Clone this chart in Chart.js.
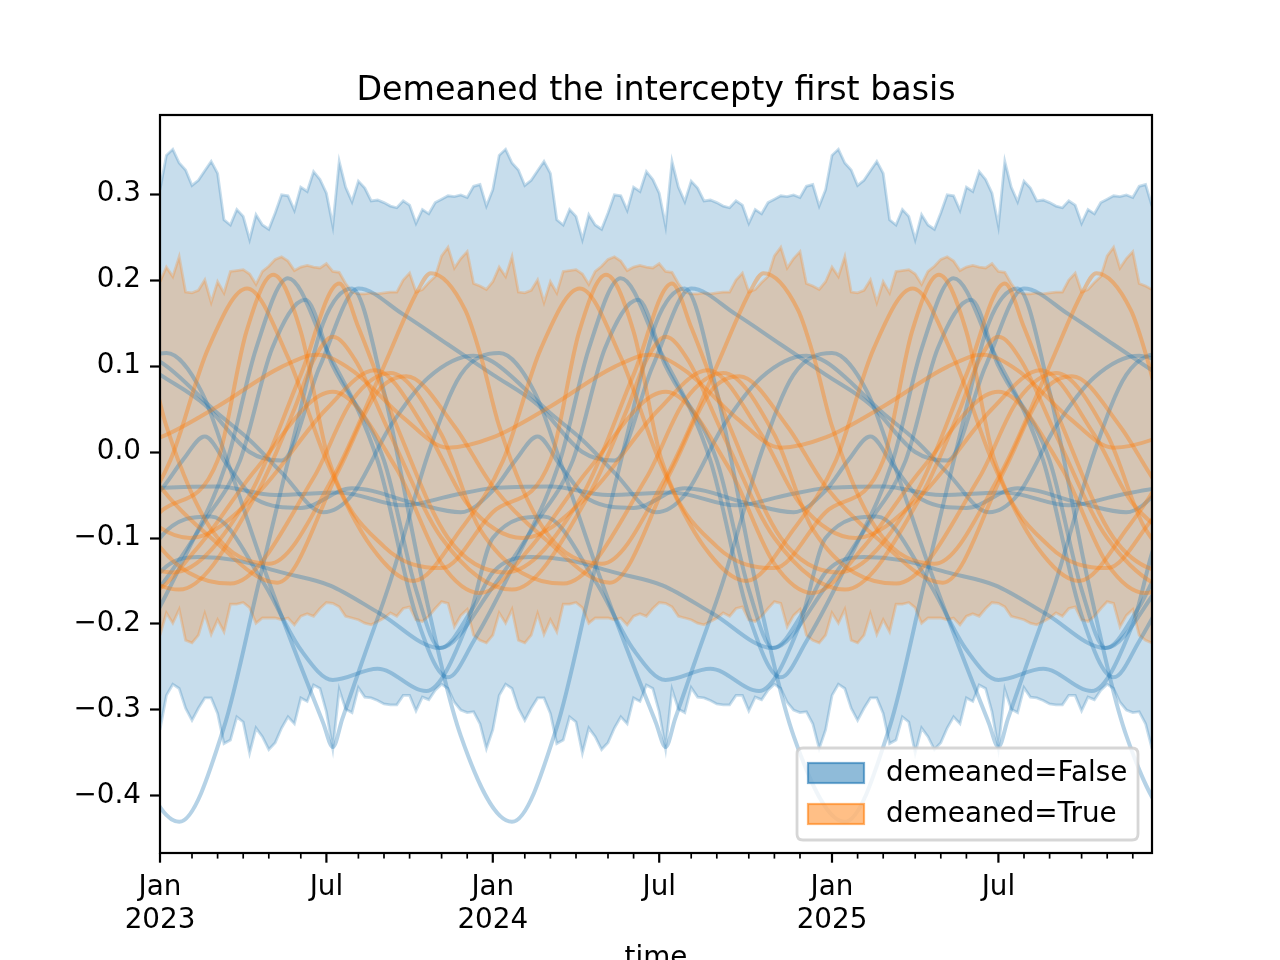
<!DOCTYPE html>
<html>
<head>
<meta charset="utf-8">
<script src="https://cdn.jsdelivr.net/npm/chart.js@4/dist/chart.umd.min.js"></script>
<style>
html, body { margin: 0; padding: 0; background: #fff; }
canvas { display: block; }
</style>
</head>
<body>
<canvas id="chart" width="1280" height="960" style="width:1280px;height:960px"></canvas>
<script>
// week index 0 = week starting Mon 2 Jan 2023, 156 weekly points, pattern repeats every 52 weeks
var nWeeks = 156;
var period = 52;

var titleText = 'Demeaned the intercepty first basis';
var xLabel = 'time';
var seriesNames = ['demeaned=False', 'demeaned=True'];

var yTicks = [-0.4, -0.3, -0.2, -0.1, 0, 0.1, 0.2, 0.3];
var xMajorWeeks = [0, 26, 52, 78, 105, 131];
var xMajorLabels = [['Jan', '2023'], ['Jul'], ['Jan', '2024'], ['Jul'], ['Jan', '2025'], ['Jul']];

// band edges, one value per week of the yearly cycle
var blueUpper = [0.305,0.345,0.352,0.336,0.328,0.310,0.316,0.327,0.338,0.324,
  0.270,0.264,0.282,0.274,0.247,0.276,0.264,0.259,0.278,0.299,
  0.298,0.281,0.308,0.303,0.326,0.317,0.301,0.263,0.338,0.308,
  0.291,0.315,0.307,0.292,0.293,0.290,0.286,0.284,0.292,0.287,
  0.266,0.282,0.277,0.290,0.294,0.298,0.297,0.299,0.296,0.309,
  0.311,0.286];
var blueLower = [-0.323,-0.283,-0.270,-0.275,-0.298,-0.312,-0.298,-0.286,-0.286,-0.304,
  -0.339,-0.335,-0.308,-0.314,-0.350,-0.321,-0.331,-0.346,-0.338,-0.321,
  -0.308,-0.316,-0.286,-0.290,-0.271,-0.275,-0.302,-0.345,-0.276,-0.299,
  -0.303,-0.274,-0.285,-0.286,-0.289,-0.293,-0.294,-0.294,-0.283,-0.283,
  -0.301,-0.285,-0.288,-0.277,-0.270,-0.275,-0.291,-0.300,-0.303,-0.302,
  -0.316,-0.345];
var orangeUpper = [0.198,0.215,0.204,0.227,0.186,0.185,0.188,0.200,0.174,0.198,
  0.185,0.210,0.211,0.212,0.207,0.195,0.210,0.216,0.224,0.227,
  0.222,0.211,0.215,0.217,0.215,0.214,0.219,0.210,0.209,0.196,
  0.186,0.184,0.184,0.185,0.184,0.185,0.186,0.186,0.200,0.208,
  0.186,0.189,0.197,0.204,0.228,0.238,0.214,0.225,0.233,0.196,
  0.193,0.189];
var orangeLower = [-0.213,-0.187,-0.199,-0.183,-0.219,-0.222,-0.213,-0.188,-0.212,-0.195,
  -0.209,-0.177,-0.177,-0.175,-0.181,-0.199,-0.193,-0.193,-0.193,-0.195,
  -0.193,-0.201,-0.191,-0.188,-0.191,-0.182,-0.175,-0.176,-0.180,-0.191,
  -0.193,-0.195,-0.199,-0.201,-0.197,-0.193,-0.187,-0.191,-0.182,-0.180,
  -0.195,-0.197,-0.191,-0.182,-0.174,-0.176,-0.203,-0.190,-0.183,-0.213,
  -0.219,-0.222];

// sample curves: [week of cycle, value] read at turning points and along the slopes
var blue1 = [[3,-0.43],[10,-0.32],[15.5,-0.15],[21,0.02],[25.5,0.15],[30,0.19],[35,0.07],[41,-0.15],[47,-0.33]];
var blue2 = [[1,0.115],[6.5,0.07],[10.5,-0.01],[16,-0.13],[21,-0.23],[25.5,-0.315],[27,-0.343],[28.5,-0.31],[32,-0.235],[36,-0.15],[42,0.0],[47,0.09]];
var blue3 = [[4,-0.12],[10.5,-0.01],[15,0.12],[20,0.202],[26,0.12],[34,-0.01],[40,-0.19],[45,-0.262],[49,-0.22]];
var blue4 = [[0,-0.157],[7,-0.08],[12.5,-0.01],[17.5,0.12],[22.7,0.177],[27,0.1],[35,-0.01],[40,-0.16],[43.75,-0.228]];
var blue5 = [[0,-0.14],[6,-0.122],[12,-0.126],[19,-0.14],[26.5,-0.155],[34.4,-0.188],[43.75,-0.228],[49,-0.18]];
var blue6 = [[0,0.105],[9,0.045],[14,0.014],[19,-0.024],[25.5,-0.07],[30,-0.05],[36,0.03],[42,0.087],[49,0.112]];
var blue7 = [[0,0.09],[7,0.055],[14,0.0],[19,-0.01],[25,0.1],[31,0.19],[38,0.16],[45,0.125]];
var blue8 = [[0,-0.1],[8,-0.075],[16,-0.15],[22,-0.23],[27,-0.265],[34,-0.252],[41.6,-0.278],[48,-0.2]];
var blue9 = [[0,-0.045],[3.5,-0.01],[7,0.018],[10.5,-0.015],[15,-0.055],[22,-0.065],[30,-0.042],[40,-0.06],[47,-0.07]];
var blue10 = [[0,-0.042],[9,-0.04],[18,-0.05],[28,-0.047],[38,-0.062],[46,-0.05]];

var orange1 = [[1.6,-0.01],[7.5,0.12],[13.6,0.19],[20,0.11],[26,-0.01],[33,-0.11],[39.6,-0.15],[47,-0.09]];
var orange2 = [[0,-0.07],[9,-0.01],[13.5,0.14],[17.7,0.206],[22,0.14],[26.4,-0.01],[35,-0.11],[44,-0.135]];
var orange3 = [[2,-0.14],[14,-0.05],[22,0.09],[28,0.196],[31,0.145],[37,0.03],[45,-0.1]];
var orange4 = [[1,0.03],[8,-0.09],[17,-0.13],[27,-0.03],[34.7,0.095],[40.3,0.188],[42.3,0.208],[47.7,0.165],[50.3,0.107]];
var orange5 = [[3,-0.16],[15,-0.05],[21,0.05],[24,0.107],[27,0.134],[30.5,0.107],[36,0.02],[44,-0.1]];
var orange6 = [[0,0.017],[9,0.053],[19,0.099],[24.5,0.113],[30,0.095],[38,0.04],[45,0.005]];
var orange7 = [[11,-0.153],[24,-0.03],[30,0.06],[36,0.092],[44,0.02],[50,-0.09]];
var orange8 = [[0,-0.04],[8,-0.1],[18.3,-0.152],[28,-0.02],[34,0.07],[38.5,0.088],[46,0.03]];
var orange9 = [[4.7,-0.1],[15,-0.05],[26,0.05],[33.6,0.095],[42,0.02],[48,-0.06]];
var orange10 = [[6,-0.11],[15,-0.02],[27,0.07],[37,-0.02],[44,-0.13],[50,-0.164]];

var blueLines = [blue1, blue2, blue3, blue4, blue5, blue6, blue7, blue8, blue9, blue10];
var orangeLines = [orange1, orange2, orange3, orange4, orange5, orange6, orange7, orange8, orange9, orange10];

var BLUE = '31,119,180';
var ORANGE = '255,127,14';
var FS = 27.8;
Chart.defaults.font.family = "'DejaVu Sans', sans-serif";

// first week of each month (week that starts on a Monday inside the month)
var monthTicks = [];
(function () {
  var start = Date.UTC(2023, 0, 2);
  for (var y = 2023; y <= 2025; y++) {
    for (var m = 0; m < 12; m++) {
      var dow = new Date(Date.UTC(y, m, 1)).getUTCDay();
      var mon = Date.UTC(y, m, 1 + (8 - dow) % 7);
      var w = Math.round((mon - start) / 86400000 / 7);
      if (w >= 0 && w <= nWeeks - 1) monthTicks.push(w);
    }
  }
})();

function bandPoints(vals) {
  var out = [];
  for (var i = 0; i < nWeeks; i++) out.push({ x: i, y: vals[i % period] });
  return out;
}
function linePoints(keys) {
  var out = [];
  for (var yr = -1; yr <= 3; yr++) {
    keys.forEach(function (k) { out.push({ x: k[0] + period * yr, y: k[1] }); });
  }
  return out;
}

var datasets = [
  { data: bandPoints(blueUpper), fill: '+1', backgroundColor: 'rgba(' + BLUE + ',0.25)', borderColor: 'rgba(' + BLUE + ',0.25)', borderWidth: 2.8, tension: 0, order: 4, clip: 0 },
  { data: bandPoints(blueLower), fill: false, borderColor: 'rgba(' + BLUE + ',0.25)', borderWidth: 2.8, tension: 0, order: 4, clip: 0 },
  { data: bandPoints(orangeUpper), fill: '+1', backgroundColor: 'rgba(' + ORANGE + ',0.25)', borderColor: 'rgba(' + ORANGE + ',0.25)', borderWidth: 2.8, tension: 0, order: 3, clip: 0 },
  { data: bandPoints(orangeLower), fill: false, borderColor: 'rgba(' + ORANGE + ',0.25)', borderWidth: 2.8, tension: 0, order: 3, clip: 0 }
];
blueLines.forEach(function (k) {
  datasets.push({ data: linePoints(k), fill: false, borderColor: 'rgba(' + BLUE + ',0.33)', borderWidth: 4, cubicInterpolationMode: 'monotone', order: 2, clip: 0 });
});
orangeLines.forEach(function (k) {
  datasets.push({ data: linePoints(k), fill: false, borderColor: 'rgba(' + ORANGE + ',0.38)', borderWidth: 4, cubicInterpolationMode: 'monotone', order: 1, clip: 0 });
});

var decor = {
  id: 'decor',
  afterDatasetsDraw: function (chart) {
    var c = chart.ctx, a = chart.chartArea, xs = chart.scales.x;
    c.save();
    c.strokeStyle = '#000';
    monthTicks.forEach(function (w) {
      var major = xMajorWeeks.indexOf(w) >= 0;
      var px = xs.getPixelForValue(w);
      c.lineWidth = major ? 2.2 : 1.7;
      c.beginPath();
      c.moveTo(px, a.bottom);
      c.lineTo(px, a.bottom + (major ? 9.7 : 5.6));
      c.stroke();
    });
    c.lineWidth = 2.2;
    c.strokeRect(a.left, a.top, a.right - a.left, a.bottom - a.top);

    // legend
    var lx = 797, ly = 748, lw = 341, lh = 92, r = 6;
    c.beginPath();
    c.moveTo(lx + r, ly);
    c.lineTo(lx + lw - r, ly); c.quadraticCurveTo(lx + lw, ly, lx + lw, ly + r);
    c.lineTo(lx + lw, ly + lh - r); c.quadraticCurveTo(lx + lw, ly + lh, lx + lw - r, ly + lh);
    c.lineTo(lx + r, ly + lh); c.quadraticCurveTo(lx, ly + lh, lx, ly + lh - r);
    c.lineTo(lx, ly + r); c.quadraticCurveTo(lx, ly, lx + r, ly);
    c.closePath();
    c.fillStyle = 'rgba(255,255,255,0.8)';
    c.fill();
    c.strokeStyle = 'rgba(204,204,204,0.8)';
    c.lineWidth = 2.8;
    c.stroke();
    var cols = [BLUE, ORANGE];
    c.font = FS + "px 'DejaVu Sans'";
    c.textAlign = 'left';
    c.textBaseline = 'middle';
    for (var i = 0; i < 2; i++) {
      var py = 763 + i * 41;
      c.fillStyle = 'rgba(' + cols[i] + ',0.5)';
      c.fillRect(808, py, 56, 20);
      c.strokeStyle = 'rgba(' + cols[i] + ',0.6)';
      c.lineWidth = 2.2;
      c.strokeRect(808, py, 56, 20);
      c.fillStyle = '#000';
      c.fillText(seriesNames[i], 886, py + 11);
    }

    // title and axis label
    c.fillStyle = '#000';
    c.textAlign = 'center';
    c.textBaseline = 'alphabetic';
    c.font = "33.3px 'DejaVu Sans'";
    c.fillText(titleText, (a.left + a.right) / 2, 100);
    c.font = FS + "px 'DejaVu Sans'";
    c.fillText(xLabel, (a.left + a.right) / 2, 966);
    c.restore();
  }
};

var ctx = document.getElementById('chart').getContext('2d');
new Chart(ctx, {
  type: 'line',
  data: { datasets: datasets },
  options: {
    responsive: false,
    animation: false,
    devicePixelRatio: 1,
    layout: { padding: { left: 0, right: 128, top: 115, bottom: 0 } },
    plugins: { legend: { display: false }, tooltip: { enabled: false }, title: { display: false } },
    elements: { point: { radius: 0 } },
    scales: {
      x: {
        type: 'linear', min: 0, max: nWeeks - 1,
        afterFit: function (s) { s.height = 107; },
        afterBuildTicks: function (s) { s.ticks = monthTicks.map(function (w) { return { value: w }; }); },
        grid: { display: true, drawOnChartArea: false, drawTicks: true, tickLength: 10, tickColor: 'rgba(0,0,0,0)' },
        border: { display: false },
        ticks: {
          autoSkip: false, maxRotation: 0, minRotation: 0, padding: 8, color: '#000',
          font: { size: FS, lineHeight: 1.2 },
          callback: function (v) { var i = xMajorWeeks.indexOf(v); return i < 0 ? '' : xMajorLabels[i]; }
        }
      },
      y: {
        type: 'linear', min: -0.4663, max: 0.3919,
        afterFit: function (s) { s.width = 160; },
        afterBuildTicks: function (s) { s.ticks = yTicks.map(function (v) { return { value: v }; }); },
        grid: { drawOnChartArea: false, tickLength: 10, tickWidth: 2.2, tickColor: '#000' },
        border: { display: false },
        ticks: {
          padding: 9, color: '#000', font: { size: FS },
          callback: function (v) { return (v < 0 ? '\u2212' : '') + Math.abs(v).toFixed(1); }
        }
      }
    }
  },
  plugins: [decor]
});
</script>
</body>
</html>
